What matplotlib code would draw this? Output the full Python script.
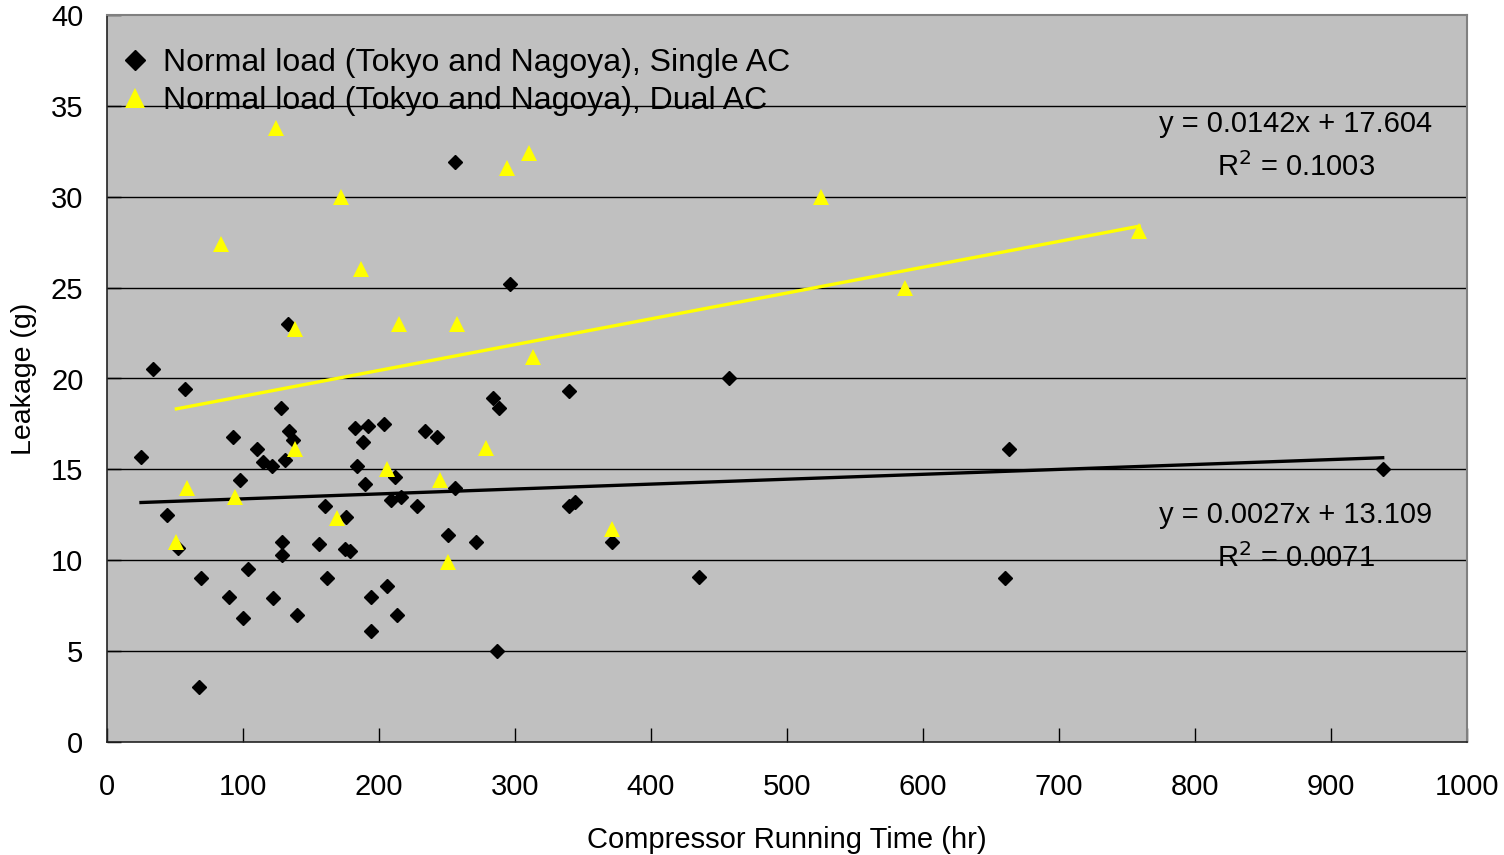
import numpy as np
import matplotlib.pyplot as plt

plt.rcParams['font.family'] = ['Liberation Sans', 'DejaVu Sans']

# Normal load (Tokyo and Nagoya), Single AC
single_x = [25, 34, 44, 52, 57, 68, 69, 90, 93, 98, 100, 104, 110, 115, 121, 122,
            128, 133, 134, 137, 131, 129, 129, 140, 156, 160, 162, 175, 176, 179,
            182, 184, 188, 192, 190, 194, 194, 204, 206, 209, 212, 213, 216, 228,
            234, 243, 251, 256, 256, 271, 284, 288, 287, 296, 340, 340, 344, 371,
            435, 457, 660, 663, 938]
single_y = [15.7, 20.5, 12.5, 10.7, 19.4, 3.0, 9.0, 8.0, 16.8, 14.4, 6.8, 9.5, 16.1,
            15.4, 15.2, 7.9, 18.4, 23.0, 17.1, 16.6, 15.5, 11.0, 10.3, 7.0, 10.9,
            13.0, 9.0, 10.6, 12.4, 10.5, 17.3, 15.2, 16.5, 17.4, 14.2, 8.0, 6.1,
            17.5, 8.6, 13.3, 14.6, 7.0, 13.5, 13.0, 17.1, 16.8, 11.4, 31.9, 14.0,
            11.0, 18.9, 18.4, 5.0, 25.2, 19.3, 13.0, 13.2, 11.0, 9.1, 20.0, 9.0,
            16.1, 15.0]

# Normal load (Tokyo and Nagoya), Dual AC
dual_x = [124, 84, 51, 59, 94, 138, 138, 172, 169, 187, 206, 215, 245, 251, 257,
          279, 294, 310, 313, 371, 525, 587, 759]
dual_y = [33.8, 27.4, 11.0, 14.0, 13.5, 22.7, 16.1, 30.0, 12.3, 26.0, 15.0, 23.0,
          14.4, 9.9, 23.0, 16.2, 31.6, 32.4, 21.2, 11.7, 30.0, 25.0, 28.1]

# linear trendlines (slope, intercept, R^2)
single_fit = (0.0027, 13.109, 0.0071)
dual_fit = (0.0142, 17.604, 0.1003)

fig = plt.figure(figsize=(15.04, 8.55), dpi=100)
ax = fig.add_axes([107 / 1504, 1 - 742 / 855, 1360 / 1504, 727 / 855])
ax.set_facecolor('#C0C0C0')

ax.set_xlim(0, 1000)
ax.set_ylim(0, 40)
ax.set_xticks(np.arange(0, 1001, 100))
ax.set_yticks(np.arange(0, 41, 5))
for y in np.arange(5, 40, 5):
    ax.axhline(y, color='black', lw=1.0, zorder=1)

# trendlines
xs = np.array([min(single_x), max(single_x)])
ax.plot(xs, single_fit[0] * xs + single_fit[1], color='black', lw=2.4, zorder=2)
xd = np.array([min(dual_x), max(dual_x)])
ax.plot(xd, dual_fit[0] * xd + dual_fit[1], color='#FFFF00', lw=2.4, zorder=2)

ax.plot(single_x, single_y, ls='none', marker='D', markersize=7.5, color='black',
        label='Normal load (Tokyo and Nagoya), Single AC', zorder=3)
ax.plot(dual_x, dual_y, ls='none', marker='^', markersize=11, color='#FFFF00',
        markeredgewidth=0, label='Normal load (Tokyo and Nagoya), Dual AC', zorder=4)

ax.text(0.874, 0.850, 'y = %.4fx + %.3f' % dual_fit[:2], transform=ax.transAxes,
        ha='center', va='center', fontsize=21)
ax.text(0.874, 0.791, r'R$^2$ = %.4f' % dual_fit[2], transform=ax.transAxes,
        ha='center', va='center', fontsize=21)
ax.text(0.874, 0.312, 'y = %.4fx + %.3f' % single_fit[:2], transform=ax.transAxes,
        ha='center', va='center', fontsize=21)
ax.text(0.874, 0.253, r'R$^2$ = %.4f' % single_fit[2], transform=ax.transAxes,
        ha='center', va='center', fontsize=21)

leg = ax.legend(loc='upper left', bbox_to_anchor=(0.005, 0.955), frameon=False,
                fontsize=23, handletextpad=0.23, borderaxespad=0, borderpad=0,
                labelspacing=0.25, handlelength=1.3, markerscale=1.3)

for side in ['top', 'right']:
    ax.spines[side].set_color('#808080')
    ax.spines[side].set_linewidth(1.5)
for side in ['left', 'bottom']:
    ax.spines[side].set_color('#222222')
    ax.spines[side].set_linewidth(1.2)
ax.tick_params(direction='in', length=10, width=1, labelsize=21)
ax.tick_params(axis='x', pad=22)
ax.tick_params(axis='y', pad=17)

ax.set_xlabel('Compressor Running Time (hr)', fontsize=21, labelpad=18)
ax.set_ylabel('Leakage (g)', fontsize=20.5, labelpad=10)

fig.savefig('out.png', dpi=100)
